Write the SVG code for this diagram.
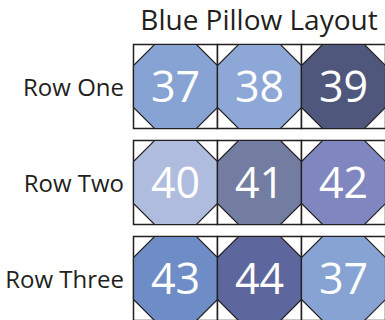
<svg xmlns="http://www.w3.org/2000/svg" xmlns:xlink="http://www.w3.org/1999/xlink" width="385" height="320" viewBox="0 0 385 320">
<style>
.bg{fill:#ffffff}
.cell{fill:#ffffff;stroke:#231f20;stroke-width:1.5}
.oct{stroke:#231f20;stroke-width:1.2;stroke-linejoin:miter}
.num{font-family:"Open Sans","Liberation Sans",sans-serif;font-size:43px;fill:#ffffff;text-anchor:middle}
.lbl{font-family:"Open Sans","Liberation Sans",sans-serif;font-size:24px;fill:#231f20;text-anchor:end}
.title{font-family:"Open Sans","Liberation Sans",sans-serif;font-size:28px;fill:#231f20;text-anchor:middle}
</style>
<defs>
<rect id="sq" class="cell" x="0" y="0" width="84" height="84"/>
<polygon id="octo" points="21,0 63,0 84,21 84,63 63,84 21,84 0,63 0,21"/>
</defs>
<rect class="bg" x="0" y="0" width="385" height="320"/>
<text id="title" class="title" x="259" y="29.5">Blue Pillow Layout</text>
<g id="labels">
<text class="lbl" x="124" y="95.5">Row One</text>
<text class="lbl" x="124" y="191.5">Row Two</text>
<text class="lbl" x="124" y="287.5">Row Three</text>
</g>
<g id="n1" transform="translate(133.5,44.5)"><use xlink:href="#sq"/><use xlink:href="#octo" class="oct" fill="#87a3d3"/><text class="num" x="42" y="57">37</text></g>
<g id="n2" transform="translate(217.5,44.5)"><use xlink:href="#sq"/><use xlink:href="#octo" class="oct" fill="#8da8d7"/><text class="num" x="42" y="57">38</text></g>
<g id="n3" transform="translate(301.5,44.5)"><use xlink:href="#sq"/><use xlink:href="#octo" class="oct" fill="#50577d"/><text class="num" x="42" y="57">39</text></g>
<g id="n4" transform="translate(133.5,140.5)"><use xlink:href="#sq"/><use xlink:href="#octo" class="oct" fill="#b0bcdd"/><text class="num" x="42" y="57">40</text></g>
<g id="n5" transform="translate(217.5,140.5)"><use xlink:href="#sq"/><use xlink:href="#octo" class="oct" fill="#737ca1"/><text class="num" x="42" y="57">41</text></g>
<g id="n6" transform="translate(301.5,140.5)"><use xlink:href="#sq"/><use xlink:href="#octo" class="oct" fill="#7f86c0"/><text class="num" x="42" y="57">42</text></g>
<g id="n7" transform="translate(133.5,236.5)"><use xlink:href="#sq"/><use xlink:href="#octo" class="oct" fill="#6e8dc6"/><text class="num" x="42" y="57">43</text></g>
<g id="n8" transform="translate(217.5,236.5)"><use xlink:href="#sq"/><use xlink:href="#octo" class="oct" fill="#5e679d"/><text class="num" x="42" y="57">44</text></g>
<g id="n9" transform="translate(301.5,236.5)"><use xlink:href="#sq"/><use xlink:href="#octo" class="oct" fill="#87a3d3"/><text class="num" x="42" y="57">37</text></g>
<g id="connectors"></g>
</svg>
